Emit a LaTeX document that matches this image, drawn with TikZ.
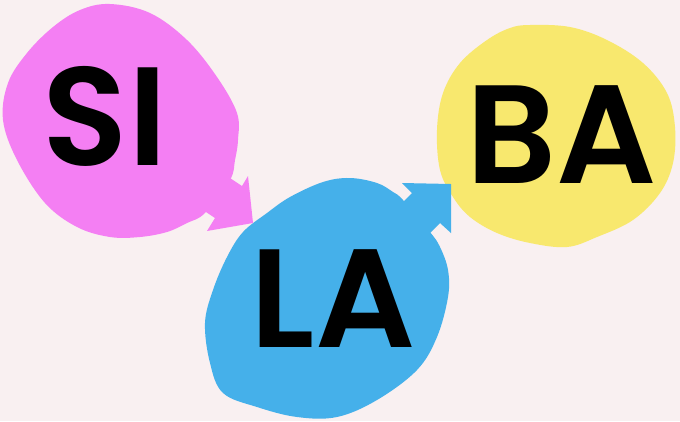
\documentclass[tikz,border=0pt]{standalone}
\usepackage{fontspec}
\setmainfont{Poppins}
\newfontfamily\lblfont{Poppins}[UprightFont=* SemiBold]
\definecolor{bgc}{HTML}{F9F0F1}
\definecolor{pinkc}{HTML}{F47FF3}
\definecolor{bluec}{HTML}{45B0EA}
\definecolor{yellowc}{HTML}{F8E86E}
\begin{document}
\begin{tikzpicture}[x=1pt,y=-1pt,
  lbl/.style={font=\fontsize{140}{140}\lblfont, anchor=base, inner sep=0pt, text=black},
  blob/.style={smooth cycle, tension=0.6}]
\fill[bgc] (0,0) rectangle (680,421);
\useasboundingbox (0,0) rectangle (680,421);
% yellow blob
\fill[yellowc] plot[blob] coordinates {(530,25) (570,27) (607,40) (643,63) (667,93) (675,127) (673,163) (660,193) (633,220) (597,237) (567,247) (530,243) (497,233) (470,217) (453,197) (440,170) (437,130) (443,93) (460,63) (487,40) (510,28)};
% blue blob
\fill[bluec] plot[blob] coordinates {(243,232) (267,213) (290,197) (323,182) (350,178) (377,183) (393,192) (403,200) (430,232) (440,247) (448,270) (448,297) (437,337) (417,370) (377,400) (337,417) (297,417) (257,407) (223,393) (210,363) (205,323) (213,290) (227,257)};
\fill[bluec] (392,213) -- (412,193) -- (402,183) -- (451,184) -- (451,233) -- (440,223) -- (420,243) -- cycle;
% pink blob
\fill[pinkc] plot[blob] coordinates {(110,4) (150,13) (187,40) (217,77) (237,113) (238,140) (235,160) (230,180) (205,213) (187,223) (167,232) (140,237) (110,237) (77,227) (45,203) (17,160) (3,120) (8,83) (27,53) (53,27) (80,10)};
\fill[pinkc] (221,172) -- (242,186) -- (248,176) -- (253,223) -- (207,231) -- (215,218) -- (194,204) -- cycle;
% labels
\node[lbl] (si) at (105,165) {SI};
\node[lbl] (la) at (333,347) {LA};
\node[lbl] (ba) at (562,183) {BA};
\end{tikzpicture}
\end{document}
